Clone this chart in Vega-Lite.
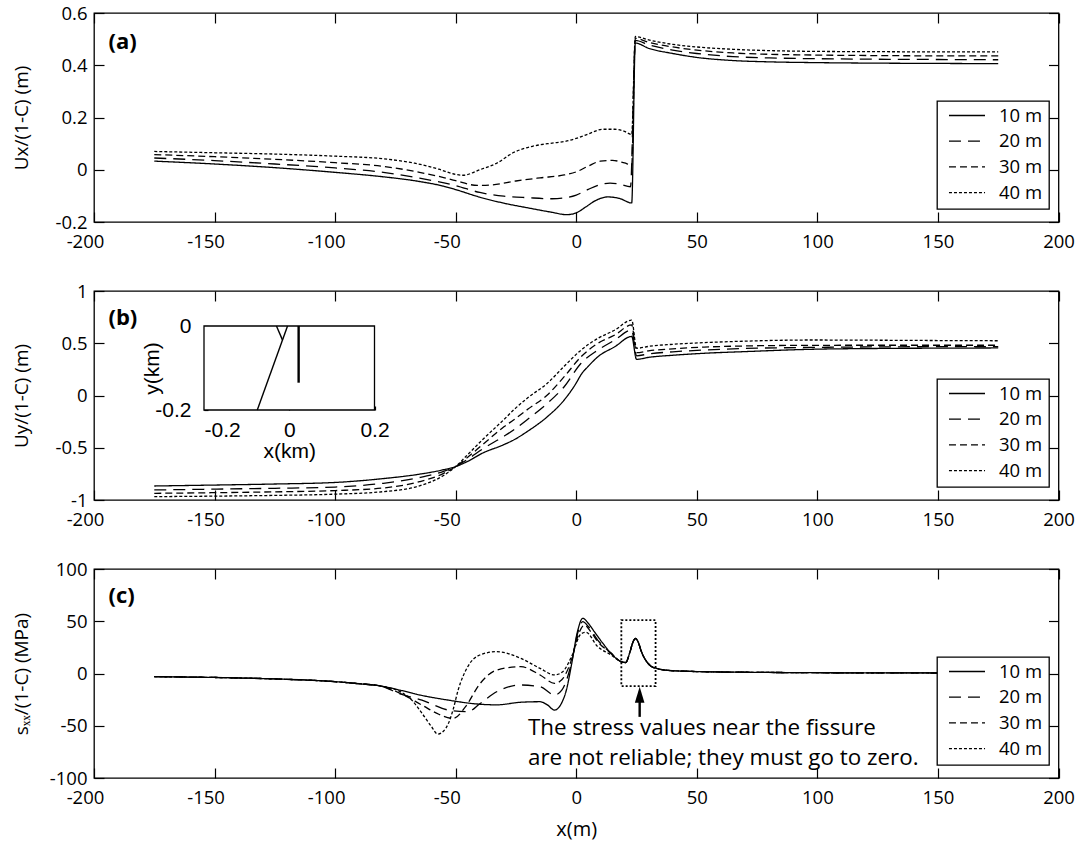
{
  "$schema": "https://vega.github.io/schema/vega-lite/v6.json",
  "background": "white",
  "padding": {"left": 11, "top": 3, "right": 0, "bottom": 0},
  "config": {
    "font": "Open Sans",
    "view": {"stroke": "black", "strokeWidth": 1.3},
    "axis": {
      "domain": false, "grid": false,
      "labelFont": "Open Sans", "labelFontSize": 18.5, "labelColor": "black",
      "titleFont": "Open Sans", "titleFontSize": 19, "titleFontWeight": "normal", "titleColor": "black",
      "tickColor": "black", "tickWidth": 1.2, "tickSize": -10,
      "labelFlush": false, "labelOverlap": false
    },
    "legend": {
      "orient": "none", "strokeColor": "black", "strokeWidth": 1.3, "fillColor": "white",
      "padding": 6, "symbolOffset": 5, "symbolType": "stroke", "symbolSize": 1300, "symbolStrokeWidth": 1.3,
      "symbolStrokeColor": "black", "labelFont": "Open Sans", "labelFontSize": 18.5,
      "labelColor": "black", "labelOffset": 13, "rowPadding": 6.7, "clipHeight": 17, "cornerRadius": 0
    },
    "concat": {"spacing": 29}
  },
  "datasets": {
    "ux": [
      {"x": -175, "v": 0.033, "d": "10 m"}, {"x": -150, "v": 0.022, "d": "10 m"}, {"x": -125, "v": 0.008, "d": "10 m"},
      {"x": -100, "v": -0.01, "d": "10 m"}, {"x": -80, "v": -0.027, "d": "10 m"}, {"x": -65, "v": -0.045, "d": "10 m"},
      {"x": -55, "v": -0.063, "d": "10 m"}, {"x": -50, "v": -0.076, "d": "10 m"}, {"x": -40, "v": -0.105, "d": "10 m"},
      {"x": -30, "v": -0.128, "d": "10 m"}, {"x": -20, "v": -0.146, "d": "10 m"}, {"x": -10, "v": -0.163, "d": "10 m"},
      {"x": -4, "v": -0.172, "d": "10 m"}, {"x": 0, "v": -0.165, "d": "10 m"}, {"x": 4, "v": -0.142, "d": "10 m"},
      {"x": 8, "v": -0.118, "d": "10 m"}, {"x": 13, "v": -0.104, "d": "10 m"}, {"x": 18, "v": -0.11, "d": "10 m"},
      {"x": 23, "v": -0.127, "d": "10 m"}, {"x": 24.5, "v": 0.485, "d": "10 m"}, {"x": 30, "v": 0.465, "d": "10 m"},
      {"x": 40, "v": 0.445, "d": "10 m"}, {"x": 50, "v": 0.43, "d": "10 m"}, {"x": 65, "v": 0.418, "d": "10 m"},
      {"x": 80, "v": 0.413, "d": "10 m"}, {"x": 100, "v": 0.41, "d": "10 m"}, {"x": 125, "v": 0.408, "d": "10 m"},
      {"x": 150, "v": 0.407, "d": "10 m"}, {"x": 175, "v": 0.406, "d": "10 m"},

      {"x": -175, "v": 0.045, "d": "20 m"}, {"x": -150, "v": 0.035, "d": "20 m"}, {"x": -125, "v": 0.022, "d": "20 m"},
      {"x": -100, "v": 0.007, "d": "20 m"}, {"x": -80, "v": -0.01, "d": "20 m"}, {"x": -65, "v": -0.032, "d": "20 m"},
      {"x": -50, "v": -0.061, "d": "20 m"}, {"x": -40, "v": -0.087, "d": "20 m"}, {"x": -30, "v": -0.101, "d": "20 m"},
      {"x": -20, "v": -0.107, "d": "20 m"}, {"x": -10, "v": -0.111, "d": "20 m"}, {"x": -5, "v": -0.108, "d": "20 m"},
      {"x": 0, "v": -0.097, "d": "20 m"}, {"x": 5, "v": -0.075, "d": "20 m"}, {"x": 10, "v": -0.057, "d": "20 m"},
      {"x": 14, "v": -0.051, "d": "20 m"}, {"x": 18, "v": -0.055, "d": "20 m"}, {"x": 22.5, "v": -0.065, "d": "20 m"},
      {"x": 24.5, "v": 0.495, "d": "20 m"}, {"x": 30, "v": 0.478, "d": "20 m"}, {"x": 40, "v": 0.458, "d": "20 m"},
      {"x": 50, "v": 0.445, "d": "20 m"}, {"x": 65, "v": 0.433, "d": "20 m"}, {"x": 80, "v": 0.428, "d": "20 m"},
      {"x": 100, "v": 0.425, "d": "20 m"}, {"x": 125, "v": 0.423, "d": "20 m"}, {"x": 150, "v": 0.422, "d": "20 m"},
      {"x": 175, "v": 0.421, "d": "20 m"},

      {"x": -175, "v": 0.058, "d": "30 m"}, {"x": -150, "v": 0.05, "d": "30 m"}, {"x": -125, "v": 0.04, "d": "30 m"},
      {"x": -100, "v": 0.027, "d": "30 m"}, {"x": -80, "v": 0.013, "d": "30 m"}, {"x": -65, "v": -0.01, "d": "30 m"},
      {"x": -55, "v": -0.03, "d": "30 m"}, {"x": -50, "v": -0.042, "d": "30 m"}, {"x": -41, "v": -0.06, "d": "30 m"},
      {"x": -35, "v": -0.058, "d": "30 m"}, {"x": -25, "v": -0.043, "d": "30 m"}, {"x": -15, "v": -0.031, "d": "30 m"},
      {"x": -5, "v": -0.02, "d": "30 m"}, {"x": 0, "v": -0.008, "d": "30 m"}, {"x": 5, "v": 0.014, "d": "30 m"},
      {"x": 10, "v": 0.033, "d": "30 m"}, {"x": 15, "v": 0.036, "d": "30 m"}, {"x": 20, "v": 0.026, "d": "30 m"},
      {"x": 23, "v": 0.018, "d": "30 m"}, {"x": 24.5, "v": 0.503, "d": "30 m"}, {"x": 30, "v": 0.488, "d": "30 m"},
      {"x": 40, "v": 0.47, "d": "30 m"}, {"x": 50, "v": 0.458, "d": "30 m"}, {"x": 65, "v": 0.447, "d": "30 m"},
      {"x": 80, "v": 0.442, "d": "30 m"}, {"x": 100, "v": 0.439, "d": "30 m"}, {"x": 125, "v": 0.437, "d": "30 m"},
      {"x": 150, "v": 0.436, "d": "30 m"}, {"x": 175, "v": 0.436, "d": "30 m"},

      {"x": -175, "v": 0.07, "d": "40 m"}, {"x": -150, "v": 0.065, "d": "40 m"}, {"x": -125, "v": 0.06, "d": "40 m"},
      {"x": -100, "v": 0.052, "d": "40 m"}, {"x": -80, "v": 0.042, "d": "40 m"}, {"x": -67, "v": 0.025, "d": "40 m"},
      {"x": -57, "v": 0.002, "d": "40 m"}, {"x": -50, "v": -0.018, "d": "40 m"}, {"x": -47, "v": -0.021, "d": "40 m"},
      {"x": -40, "v": 0.0, "d": "40 m"}, {"x": -33, "v": 0.025, "d": "40 m"}, {"x": -26, "v": 0.066, "d": "40 m"},
      {"x": -18, "v": 0.09, "d": "40 m"}, {"x": -10, "v": 0.102, "d": "40 m"}, {"x": -5, "v": 0.108, "d": "40 m"},
      {"x": 0, "v": 0.12, "d": "40 m"}, {"x": 5, "v": 0.137, "d": "40 m"}, {"x": 11, "v": 0.155, "d": "40 m"},
      {"x": 16, "v": 0.155, "d": "40 m"}, {"x": 20, "v": 0.147, "d": "40 m"}, {"x": 23, "v": 0.135, "d": "40 m"},
      {"x": 24.5, "v": 0.51, "d": "40 m"}, {"x": 30, "v": 0.497, "d": "40 m"}, {"x": 40, "v": 0.48, "d": "40 m"},
      {"x": 50, "v": 0.47, "d": "40 m"}, {"x": 65, "v": 0.461, "d": "40 m"}, {"x": 80, "v": 0.456, "d": "40 m"},
      {"x": 100, "v": 0.453, "d": "40 m"}, {"x": 125, "v": 0.452, "d": "40 m"}, {"x": 150, "v": 0.451, "d": "40 m"},
      {"x": 175, "v": 0.451, "d": "40 m"}
    ],
    "uy": [
      {"x": -175, "v": -0.866, "d": "10 m"}, {"x": -150, "v": -0.857, "d": "10 m"}, {"x": -125, "v": -0.847, "d": "10 m"},
      {"x": -100, "v": -0.832, "d": "10 m"}, {"x": -80, "v": -0.795, "d": "10 m"}, {"x": -65, "v": -0.753, "d": "10 m"},
      {"x": -55, "v": -0.71, "d": "10 m"}, {"x": -50, "v": -0.68, "d": "10 m"}, {"x": -45, "v": -0.63, "d": "10 m"},
      {"x": -39, "v": -0.553, "d": "10 m"}, {"x": -30, "v": -0.47, "d": "10 m"}, {"x": -26, "v": -0.426, "d": "10 m"},
      {"x": -20, "v": -0.34, "d": "10 m"}, {"x": -12, "v": -0.203, "d": "10 m"}, {"x": -5, "v": -0.043, "d": "10 m"},
      {"x": 0, "v": 0.12, "d": "10 m"}, {"x": 2, "v": 0.2, "d": "10 m"}, {"x": 5, "v": 0.28, "d": "10 m"},
      {"x": 9, "v": 0.371, "d": "10 m"}, {"x": 16, "v": 0.467, "d": "10 m"}, {"x": 23, "v": 0.565, "d": "10 m"},
      {"x": 25, "v": 0.346, "d": "10 m"}, {"x": 30, "v": 0.365, "d": "10 m"}, {"x": 40, "v": 0.385, "d": "10 m"},
      {"x": 53, "v": 0.404, "d": "10 m"}, {"x": 70, "v": 0.42, "d": "10 m"}, {"x": 97, "v": 0.442, "d": "10 m"},
      {"x": 125, "v": 0.45, "d": "10 m"}, {"x": 150, "v": 0.453, "d": "10 m"}, {"x": 175, "v": 0.455, "d": "10 m"},

      {"x": -175, "v": -0.904, "d": "20 m"}, {"x": -150, "v": -0.896, "d": "20 m"}, {"x": -125, "v": -0.888, "d": "20 m"},
      {"x": -100, "v": -0.876, "d": "20 m"}, {"x": -80, "v": -0.84, "d": "20 m"}, {"x": -65, "v": -0.785, "d": "20 m"},
      {"x": -55, "v": -0.725, "d": "20 m"}, {"x": -50, "v": -0.68, "d": "20 m"}, {"x": -45, "v": -0.61, "d": "20 m"},
      {"x": -39, "v": -0.515, "d": "20 m"}, {"x": -30, "v": -0.39, "d": "20 m"}, {"x": -26, "v": -0.33, "d": "20 m"},
      {"x": -20, "v": -0.225, "d": "20 m"}, {"x": -12, "v": -0.075, "d": "20 m"}, {"x": -5, "v": 0.084, "d": "20 m"},
      {"x": 2, "v": 0.308, "d": "20 m"}, {"x": 9, "v": 0.435, "d": "20 m"}, {"x": 16, "v": 0.531, "d": "20 m"},
      {"x": 23, "v": 0.627, "d": "20 m"}, {"x": 25, "v": 0.38, "d": "20 m"}, {"x": 30, "v": 0.398, "d": "20 m"},
      {"x": 40, "v": 0.418, "d": "20 m"}, {"x": 53, "v": 0.435, "d": "20 m"}, {"x": 70, "v": 0.45, "d": "20 m"},
      {"x": 97, "v": 0.46, "d": "20 m"}, {"x": 125, "v": 0.465, "d": "20 m"}, {"x": 150, "v": 0.467, "d": "20 m"},
      {"x": 175, "v": 0.467, "d": "20 m"},

      {"x": -175, "v": -0.936, "d": "30 m"}, {"x": -150, "v": -0.93, "d": "30 m"}, {"x": -125, "v": -0.922, "d": "30 m"},
      {"x": -100, "v": -0.91, "d": "30 m"}, {"x": -80, "v": -0.885, "d": "30 m"}, {"x": -65, "v": -0.825, "d": "30 m"},
      {"x": -55, "v": -0.745, "d": "30 m"}, {"x": -50, "v": -0.68, "d": "30 m"}, {"x": -45, "v": -0.59, "d": "30 m"},
      {"x": -39, "v": -0.474, "d": "30 m"}, {"x": -30, "v": -0.3, "d": "30 m"}, {"x": -26, "v": -0.234, "d": "30 m"},
      {"x": -20, "v": -0.13, "d": "30 m"}, {"x": -12, "v": 0.005, "d": "30 m"}, {"x": -5, "v": 0.18, "d": "30 m"},
      {"x": 2, "v": 0.371, "d": "30 m"}, {"x": 9, "v": 0.5, "d": "30 m"}, {"x": 16, "v": 0.579, "d": "30 m"},
      {"x": 23, "v": 0.675, "d": "30 m"}, {"x": 25, "v": 0.41, "d": "30 m"}, {"x": 30, "v": 0.428, "d": "30 m"},
      {"x": 40, "v": 0.447, "d": "30 m"}, {"x": 53, "v": 0.463, "d": "30 m"}, {"x": 70, "v": 0.474, "d": "30 m"},
      {"x": 97, "v": 0.48, "d": "30 m"}, {"x": 125, "v": 0.481, "d": "30 m"}, {"x": 150, "v": 0.481, "d": "30 m"},
      {"x": 175, "v": 0.481, "d": "30 m"},

      {"x": -175, "v": -0.968, "d": "40 m"}, {"x": -150, "v": -0.963, "d": "40 m"}, {"x": -125, "v": -0.956, "d": "40 m"},
      {"x": -100, "v": -0.944, "d": "40 m"}, {"x": -80, "v": -0.92, "d": "40 m"}, {"x": -65, "v": -0.865, "d": "40 m"},
      {"x": -55, "v": -0.765, "d": "40 m"}, {"x": -50, "v": -0.68, "d": "40 m"}, {"x": -45, "v": -0.565, "d": "40 m"},
      {"x": -39, "v": -0.426, "d": "40 m"}, {"x": -30, "v": -0.23, "d": "40 m"}, {"x": -26, "v": -0.139, "d": "40 m"},
      {"x": -20, "v": -0.02, "d": "40 m"}, {"x": -12, "v": 0.117, "d": "40 m"}, {"x": -5, "v": 0.28, "d": "40 m"},
      {"x": 2, "v": 0.435, "d": "40 m"}, {"x": 9, "v": 0.547, "d": "40 m"}, {"x": 16, "v": 0.627, "d": "40 m"},
      {"x": 23, "v": 0.722, "d": "40 m"}, {"x": 25, "v": 0.452, "d": "40 m"}, {"x": 30, "v": 0.47, "d": "40 m"},
      {"x": 40, "v": 0.49, "d": "40 m"}, {"x": 53, "v": 0.506, "d": "40 m"}, {"x": 70, "v": 0.52, "d": "40 m"},
      {"x": 97, "v": 0.531, "d": "40 m"}, {"x": 125, "v": 0.529, "d": "40 m"}, {"x": 150, "v": 0.526, "d": "40 m"},
      {"x": 175, "v": 0.524, "d": "40 m"}
    ],
    "sxx": [
      {"x": -175, "v": -3, "d": "10 m"}, {"x": -150, "v": -3.8, "d": "10 m"}, {"x": -125, "v": -5.2, "d": "10 m"},
      {"x": -100, "v": -7.8, "d": "10 m"}, {"x": -90, "v": -9.8, "d": "10 m"}, {"x": -81, "v": -12, "d": "10 m"},
      {"x": -73, "v": -16, "d": "10 m"}, {"x": -64, "v": -21, "d": "10 m"}, {"x": -53, "v": -25.5, "d": "10 m"},
      {"x": -42, "v": -29, "d": "10 m"}, {"x": -33, "v": -30, "d": "10 m"}, {"x": -23, "v": -27.5, "d": "10 m"},
      {"x": -15, "v": -27, "d": "10 m"}, {"x": -12, "v": -30, "d": "10 m"}, {"x": -9, "v": -35, "d": "10 m"},
      {"x": -6.5, "v": -30, "d": "10 m"}, {"x": -4, "v": -15, "d": "10 m"}, {"x": -2, "v": 8, "d": "10 m"},
      {"x": 0.5, "v": 40, "d": "10 m"}, {"x": 2.7, "v": 52.8, "d": "10 m"}, {"x": 5, "v": 48, "d": "10 m"},
      {"x": 7.5, "v": 40, "d": "10 m"}, {"x": 11, "v": 29, "d": "10 m"}, {"x": 14.5, "v": 19, "d": "10 m"},
      {"x": 18.6, "v": 11.3, "d": "10 m"}, {"x": 20.5, "v": 10.5, "d": "10 m"}, {"x": 22.2, "v": 20, "d": "10 m"},
      {"x": 23.5, "v": 30, "d": "10 m"}, {"x": 24.6, "v": 33.5, "d": "10 m"}, {"x": 25.7, "v": 30, "d": "10 m"},
      {"x": 27, "v": 21, "d": "10 m"}, {"x": 29, "v": 12, "d": "10 m"}, {"x": 31, "v": 7, "d": "10 m"},
      {"x": 34, "v": 4.5, "d": "10 m"}, {"x": 38, "v": 3, "d": "10 m"}, {"x": 45, "v": 2.2, "d": "10 m"},
      {"x": 53, "v": 1.7, "d": "10 m"}, {"x": 70, "v": 1.2, "d": "10 m"}, {"x": 97, "v": 0.8, "d": "10 m"},
      {"x": 125, "v": 0.6, "d": "10 m"}, {"x": 150, "v": 0.5, "d": "10 m"}, {"x": 175, "v": 0.5, "d": "10 m"},

      {"x": -175, "v": -3, "d": "20 m"}, {"x": -150, "v": -3.8, "d": "20 m"}, {"x": -125, "v": -5.2, "d": "20 m"},
      {"x": -100, "v": -7.8, "d": "20 m"}, {"x": -90, "v": -9.8, "d": "20 m"}, {"x": -81, "v": -12, "d": "20 m"},
      {"x": -73, "v": -19.6, "d": "20 m"}, {"x": -64, "v": -25.4, "d": "20 m"}, {"x": -53, "v": -35, "d": "20 m"},
      {"x": -45, "v": -36.5, "d": "20 m"}, {"x": -40, "v": -29, "d": "20 m"}, {"x": -33, "v": -17.5, "d": "20 m"},
      {"x": -23, "v": -11, "d": "20 m"}, {"x": -15, "v": -12.6, "d": "20 m"}, {"x": -9, "v": -20.6, "d": "20 m"},
      {"x": -6, "v": -16, "d": "20 m"}, {"x": -2, "v": 10, "d": "20 m"}, {"x": 0.5, "v": 38, "d": "20 m"},
      {"x": 2.7, "v": 49.6, "d": "20 m"}, {"x": 5, "v": 45, "d": "20 m"}, {"x": 8.9, "v": 32, "d": "20 m"},
      {"x": 14.5, "v": 19.3, "d": "20 m"}, {"x": 18.6, "v": 11.3, "d": "20 m"}, {"x": 20.5, "v": 10.5, "d": "20 m"},
      {"x": 22.2, "v": 20, "d": "20 m"}, {"x": 23.5, "v": 30, "d": "20 m"}, {"x": 24.6, "v": 33.5, "d": "20 m"},
      {"x": 25.7, "v": 30, "d": "20 m"}, {"x": 27, "v": 21, "d": "20 m"}, {"x": 29, "v": 12, "d": "20 m"},
      {"x": 31, "v": 7, "d": "20 m"}, {"x": 34, "v": 4.5, "d": "20 m"}, {"x": 38, "v": 3, "d": "20 m"},
      {"x": 45, "v": 2.2, "d": "20 m"}, {"x": 53, "v": 1.7, "d": "20 m"}, {"x": 70, "v": 1.2, "d": "20 m"},
      {"x": 97, "v": 0.8, "d": "20 m"}, {"x": 125, "v": 0.6, "d": "20 m"}, {"x": 150, "v": 0.5, "d": "20 m"},
      {"x": 175, "v": 0.5, "d": "20 m"},

      {"x": -175, "v": -3, "d": "30 m"}, {"x": -150, "v": -3.8, "d": "30 m"}, {"x": -125, "v": -5.2, "d": "30 m"},
      {"x": -100, "v": -7.8, "d": "30 m"}, {"x": -90, "v": -9.8, "d": "30 m"}, {"x": -81, "v": -12, "d": "30 m"},
      {"x": -73, "v": -19, "d": "30 m"}, {"x": -64, "v": -30.2, "d": "30 m"}, {"x": -57, "v": -39, "d": "30 m"},
      {"x": -51, "v": -43, "d": "30 m"}, {"x": -46, "v": -32, "d": "30 m"}, {"x": -40, "v": -10, "d": "30 m"},
      {"x": -33, "v": 3.3, "d": "30 m"}, {"x": -23, "v": 6.5, "d": "30 m"}, {"x": -15, "v": -1.4, "d": "30 m"},
      {"x": -9, "v": -9.4, "d": "30 m"}, {"x": -6, "v": -6, "d": "30 m"}, {"x": -2, "v": 13, "d": "30 m"},
      {"x": 1, "v": 38, "d": "30 m"}, {"x": 3.4, "v": 46.4, "d": "30 m"}, {"x": 6, "v": 40, "d": "30 m"},
      {"x": 8.9, "v": 30.5, "d": "30 m"}, {"x": 14.5, "v": 19.3, "d": "30 m"}, {"x": 18.6, "v": 11.3, "d": "30 m"},
      {"x": 20.5, "v": 10.5, "d": "30 m"}, {"x": 22.2, "v": 20, "d": "30 m"}, {"x": 23.5, "v": 30, "d": "30 m"},
      {"x": 24.6, "v": 33.5, "d": "30 m"}, {"x": 25.7, "v": 30, "d": "30 m"}, {"x": 27, "v": 21, "d": "30 m"},
      {"x": 29, "v": 12, "d": "30 m"}, {"x": 31, "v": 7, "d": "30 m"}, {"x": 34, "v": 4.5, "d": "30 m"},
      {"x": 38, "v": 3, "d": "30 m"}, {"x": 45, "v": 2.2, "d": "30 m"}, {"x": 53, "v": 1.7, "d": "30 m"},
      {"x": 70, "v": 1.2, "d": "30 m"}, {"x": 97, "v": 0.8, "d": "30 m"}, {"x": 125, "v": 0.6, "d": "30 m"},
      {"x": 150, "v": 0.5, "d": "30 m"}, {"x": 175, "v": 0.5, "d": "30 m"},

      {"x": -175, "v": -3, "d": "40 m"}, {"x": -150, "v": -3.8, "d": "40 m"}, {"x": -125, "v": -5.2, "d": "40 m"},
      {"x": -100, "v": -7.8, "d": "40 m"}, {"x": -90, "v": -9.8, "d": "40 m"}, {"x": -81, "v": -12, "d": "40 m"},
      {"x": -73, "v": -17.4, "d": "40 m"}, {"x": -68, "v": -26, "d": "40 m"}, {"x": -64, "v": -38, "d": "40 m"},
      {"x": -60, "v": -51, "d": "40 m"}, {"x": -57.5, "v": -58, "d": "40 m"}, {"x": -55, "v": -55, "d": "40 m"},
      {"x": -53, "v": -47.7, "d": "40 m"}, {"x": -51, "v": -34, "d": "40 m"}, {"x": -49, "v": -16, "d": "40 m"},
      {"x": -45, "v": 6.5, "d": "40 m"}, {"x": -40, "v": 17.7, "d": "40 m"}, {"x": -33, "v": 20.9, "d": "40 m"},
      {"x": -23, "v": 14.5, "d": "40 m"}, {"x": -15, "v": 4.9, "d": "40 m"}, {"x": -9, "v": -1.4, "d": "40 m"},
      {"x": -5.6, "v": 1.7, "d": "40 m"}, {"x": -2, "v": 16, "d": "40 m"}, {"x": 2, "v": 38, "d": "40 m"},
      {"x": 4, "v": 39.5, "d": "40 m"}, {"x": 8.9, "v": 25.7, "d": "40 m"}, {"x": 14.5, "v": 17.7, "d": "40 m"},
      {"x": 18.6, "v": 11.3, "d": "40 m"}, {"x": 20.5, "v": 10.5, "d": "40 m"}, {"x": 22.2, "v": 20, "d": "40 m"},
      {"x": 23.5, "v": 30, "d": "40 m"}, {"x": 24.6, "v": 33.5, "d": "40 m"}, {"x": 25.7, "v": 30, "d": "40 m"},
      {"x": 27, "v": 21, "d": "40 m"}, {"x": 29, "v": 12, "d": "40 m"}, {"x": 31, "v": 7, "d": "40 m"},
      {"x": 34, "v": 4.5, "d": "40 m"}, {"x": 38, "v": 3, "d": "40 m"}, {"x": 45, "v": 2.2, "d": "40 m"},
      {"x": 53, "v": 1.7, "d": "40 m"}, {"x": 70, "v": 1.2, "d": "40 m"}, {"x": 97, "v": 0.8, "d": "40 m"},
      {"x": 125, "v": 0.6, "d": "40 m"}, {"x": 150, "v": 0.5, "d": "40 m"}, {"x": 175, "v": 0.5, "d": "40 m"}
    ],
    "fault": [
      {"x1": -0.075, "y1": -0.2, "x2": -0.004, "y2": 0, "kind": "fault"},
      {"x1": -0.03, "y1": 0, "x2": -0.016, "y2": -0.033, "kind": "fault"},
      {"x1": 0.022, "y1": 0, "x2": 0.022, "y2": -0.135, "kind": "fissure"}
    ]
  },
  "resolve": {"legend": {"strokeDash": "independent"}},
  "vconcat": [
    {
      "width": 964.5, "height": 209,
      "layer": [
        {
          "data": {"name": "ux"},
          "mark": {"type": "line", "interpolate": "monotone", "strokeWidth": 1.3, "color": "black"},
          "encoding": {
            "x": {"field": "x", "type": "quantitative", "scale": {"domain": [-200, 200], "nice": false, "zero": false},
              "axis": {"orient": "bottom", "values": [-200, -150, -100, -50, 0, 50, 100, 150, 200], "format": "~f",
                "labelExpr": "replace(datum.label, '\u2212', '-')", "labelPadding": 20,
                "labelOffset": {"condition": {"test": "datum.value < 0", "value": -9}, "value": 0}, "title": null}},
            "y": {"field": "v", "type": "quantitative", "scale": {"domain": [-0.2, 0.6], "nice": false, "zero": false},
              "axis": {"orient": "left", "values": [-0.2, 0, 0.2, 0.4, 0.6], "format": "~f",
                "labelExpr": "replace(datum.label, '\u2212', '-')", "labelPadding": 17,
                "minExtent": 50, "maxExtent": 50, "titlePadding": 13, "title": "Ux/(1-C) (m)"}},
            "strokeDash": {"field": "d", "type": "nominal",
              "scale": {"domain": ["10 m", "20 m", "30 m", "40 m"], "range": [[1, 0], [12, 7], [7, 4], [3, 2]]},
              "legend": {"title": null, "orient": "none", "legendX": 843, "legendY": 88}}
          }
        },
        {
          "data": {"values": [{}]},
          "mark": {"type": "text", "text": "(a)", "font": "Open Sans", "fontSize": 22, "fontWeight": "bold", "align": "left", "baseline": "middle"},
          "encoding": {
            "x": {"datum": -194, "type": "quantitative", "scale": {"domain": [-200, 200], "nice": false, "zero": false},
              "axis": {"orient": "top", "values": [-200, -150, -100, -50, 0, 50, 100, 150, 200], "labels": false, "title": null, "minExtent": 0, "maxExtent": 0}},
            "y": {"datum": 0.49, "type": "quantitative", "scale": {"domain": [-0.2, 0.6], "nice": false, "zero": false},
              "axis": {"orient": "right", "values": [-0.2, 0, 0.2, 0.4, 0.6], "labels": false, "title": null, "minExtent": 0, "maxExtent": 0}}
          }
        }
      ],
      "resolve": {"axis": {"x": "independent", "y": "independent"}}
    },
    {
      "width": 964.5, "height": 209,
      "layer": [
        {
          "layer": [
            {
              "data": {"name": "uy"},
              "mark": {"type": "line", "interpolate": "monotone", "strokeWidth": 1.3, "color": "black"},
              "encoding": {
                "x": {"field": "x", "type": "quantitative", "scale": {"domain": [-200, 200], "nice": false, "zero": false},
                  "axis": {"orient": "bottom", "values": [-200, -150, -100, -50, 0, 50, 100, 150, 200], "format": "~f",
                    "labelExpr": "replace(datum.label, '\u2212', '-')", "labelPadding": 20,
                    "labelOffset": {"condition": {"test": "datum.value < 0", "value": -9}, "value": 0}, "title": null}},
                "y": {"field": "v", "type": "quantitative", "scale": {"domain": [-1, 1], "nice": false, "zero": false},
                  "axis": {"orient": "left", "values": [-1, -0.5, 0, 0.5, 1], "format": "~f",
                    "labelExpr": "replace(datum.label, '\u2212', '-')", "labelPadding": 17,
                    "minExtent": 50, "maxExtent": 50, "titlePadding": 13, "title": "Uy/(1-C) (m)"}},
                "strokeDash": {"field": "d", "type": "nominal",
                  "scale": {"domain": ["10 m", "20 m", "30 m", "40 m"], "range": [[1, 0], [12, 7], [7, 4], [3, 2]]},
                  "legend": {"title": null, "orient": "none", "legendX": 843, "legendY": 88}}
              }
            },
            {
              "data": {"values": [{}]},
              "mark": {"type": "text", "text": "(b)", "font": "Open Sans", "fontSize": 22, "fontWeight": "bold", "align": "left", "baseline": "middle"},
              "encoding": {
                "x": {"datum": -194, "type": "quantitative", "scale": {"domain": [-200, 200], "nice": false, "zero": false},
                  "axis": {"orient": "top", "values": [-200, -150, -100, -50, 0, 50, 100, 150, 200], "labels": false, "title": null, "minExtent": 0, "maxExtent": 0}},
                "y": {"datum": 0.74, "type": "quantitative", "scale": {"domain": [-1, 1], "nice": false, "zero": false},
                  "axis": {"orient": "right", "values": [-1, -0.5, 0, 0.5, 1], "labels": false, "title": null, "minExtent": 0, "maxExtent": 0}}
              }
            }
          ],
          "resolve": {"axis": {"x": "independent", "y": "independent"}}
        },
        {
          "layer": [
            {
              "data": {"values": [{}]},
              "mark": {"type": "rect", "fill": "white", "stroke": "black", "strokeWidth": 1.3},
              "encoding": {
                "x": {"datum": -0.2, "type": "quantitative",
                  "scale": {"domain": [-0.2, 0.2], "range": [110, 280.5], "nice": false, "zero": false},
                  "axis": {"orient": "bottom", "offset": -90, "values": [-0.2, 0, 0.2], "format": "~f",
                    "labelExpr": "replace(datum.label, '\u2212', '-')",
                    "labelFont": "Liberation Sans", "labelFontSize": 21, "tickSize": -4, "labelPadding": 13,
                    "labelAlign": {"condition": {"test": "datum.value < -0.1", "value": "left"}, "value": "center"},
                    "title": "x(km)", "titleFont": "Liberation Sans", "titleFontSize": 21, "titlePadding": 0,
                    "minExtent": 0, "maxExtent": 200}},
                "x2": {"datum": 0.2},
                "y": {"datum": -0.2, "type": "quantitative",
                  "scale": {"domain": [-0.2, 0], "range": [119, 35], "nice": false, "zero": false},
                  "axis": {"orient": "left", "offset": -110, "values": [-0.2, -0.1, 0], "format": "~f",
                    "labelExpr": "abs(datum.value + 0.1) < 0.01 ? '' : replace(datum.label, '\u2212', '-')",
                    "labelFont": "Liberation Sans", "labelFontSize": 21, "tickSize": -4, "labelPadding": 17,
                    "title": "y(km)", "titleFont": "Liberation Sans", "titleFontSize": 21, "titlePadding": -8,
                    "minExtent": 0, "maxExtent": 200}},
                "y2": {"datum": 0}
              }
            },
            {
              "data": {"name": "fault"},
              "transform": [{"filter": "datum.kind == 'fault'"}],
              "mark": {"type": "rule", "color": "black", "strokeWidth": 1.4},
              "encoding": {
                "x": {"field": "x1", "type": "quantitative", "scale": {"domain": [-0.2, 0.2], "range": [110, 280.5], "nice": false, "zero": false}, "axis": null},
                "x2": {"field": "x2"},
                "y": {"field": "y1", "type": "quantitative", "scale": {"domain": [-0.2, 0], "range": [119, 35], "nice": false, "zero": false}, "axis": null},
                "y2": {"field": "y2"}
              }
            },
            {
              "data": {"name": "fault"},
              "transform": [{"filter": "datum.kind == 'fissure'"}],
              "mark": {"type": "rule", "color": "black", "strokeWidth": 2.4},
              "encoding": {
                "x": {"field": "x1", "type": "quantitative", "scale": {"domain": [-0.2, 0.2], "range": [110, 280.5], "nice": false, "zero": false}, "axis": null},
                "x2": {"field": "x2"},
                "y": {"field": "y1", "type": "quantitative", "scale": {"domain": [-0.2, 0], "range": [119, 35], "nice": false, "zero": false}, "axis": null},
                "y2": {"field": "y2"}
              }
            }
          ],
          "resolve": {"axis": {"x": "independent", "y": "independent"}}
        }
      ],
      "resolve": {"scale": {"x": "independent", "y": "independent"}}
    },
    {
      "width": 964.5, "height": 209,
      "layer": [
        {
          "data": {"name": "sxx"},
          "mark": {"type": "line", "interpolate": "monotone", "strokeWidth": 1.3, "color": "black"},
          "encoding": {
            "x": {"field": "x", "type": "quantitative", "scale": {"domain": [-200, 200], "nice": false, "zero": false},
              "axis": {"orient": "bottom", "values": [-200, -150, -100, -50, 0, 50, 100, 150, 200], "format": "~f",
                "labelExpr": "replace(datum.label, '\u2212', '-')", "labelPadding": 20,
                "labelOffset": {"condition": {"test": "datum.value < 0", "value": -9}, "value": 0},
                "title": "x(m)", "titleFontSize": 20, "titlePadding": 13}},
            "y": {"field": "v", "type": "quantitative", "scale": {"domain": [-100, 100], "nice": false, "zero": false},
              "axis": {"orient": "left", "values": [-100, -50, 0, 50, 100], "format": "~f",
                "labelExpr": "replace(datum.label, '\u2212', '-')", "labelPadding": 17,
                "minExtent": 50, "maxExtent": 50, "titlePadding": 13, "title": "s\u2093\u2093/(1-C) (MPa)"}},
            "strokeDash": {"field": "d", "type": "nominal",
              "scale": {"domain": ["10 m", "20 m", "30 m", "40 m"], "range": [[1, 0], [12, 7], [7, 4], [3, 2]]},
              "legend": {"title": null, "orient": "none", "legendX": 843, "legendY": 88}}
          }
        },
        {
          "data": {"values": [{}]},
          "mark": {"type": "text", "text": "(c)", "font": "Open Sans", "fontSize": 22, "fontWeight": "bold", "align": "left", "baseline": "middle"},
          "encoding": {
            "x": {"datum": -194, "type": "quantitative", "scale": {"domain": [-200, 200], "nice": false, "zero": false},
              "axis": {"orient": "top", "values": [-200, -150, -100, -50, 0, 50, 100, 150, 200], "labels": false, "title": null, "minExtent": 0, "maxExtent": 0}},
            "y": {"datum": 74, "type": "quantitative", "scale": {"domain": [-100, 100], "nice": false, "zero": false},
              "axis": {"orient": "right", "values": [-100, -50, 0, 50, 100], "labels": false, "title": null, "minExtent": 0, "maxExtent": 0}}
          }
        },
        {
          "data": {"values": [{}]},
          "mark": {"type": "rect", "filled": false, "stroke": "black", "strokeWidth": 1.8, "strokeDash": [2, 2]},
          "encoding": {
            "x": {"datum": 18.7, "type": "quantitative", "scale": {"domain": [-200, 200], "nice": false, "zero": false}, "axis": null},
            "x2": {"datum": 32.9},
            "y": {"datum": -12, "type": "quantitative", "scale": {"domain": [-100, 100], "nice": false, "zero": false}, "axis": null},
            "y2": {"datum": 51}
          }
        },
        {
          "data": {"values": [{}]},
          "mark": {"type": "rule", "color": "black", "strokeWidth": 2.4},
          "encoding": {
            "x": {"datum": 26.3, "type": "quantitative", "scale": {"domain": [-200, 200], "nice": false, "zero": false}, "axis": null},
            "y": {"datum": -41.5, "type": "quantitative", "scale": {"domain": [-100, 100], "nice": false, "zero": false}, "axis": null},
            "y2": {"datum": -24}
          }
        },
        {
          "data": {"values": [{}]},
          "mark": {"type": "point", "shape": "M0,-1L0.6,1L-0.6,1Z", "filled": true, "color": "black", "opacity": 1, "size": 256},
          "encoding": {
            "x": {"datum": 26.3, "type": "quantitative", "scale": {"domain": [-200, 200], "nice": false, "zero": false}, "axis": null},
            "y": {"datum": -20.3, "type": "quantitative", "scale": {"domain": [-100, 100], "nice": false, "zero": false}, "axis": null}
          }
        },
        {
          "data": {"values": [{}]},
          "mark": {"type": "text", "text": ["The stress values near the fissure", "are not reliable; they must go to zero."],
            "font": "Open Sans", "fontSize": 22.4, "lineHeight": 30, "align": "left", "baseline": "alphabetic", "color": "black"},
          "encoding": {
            "x": {"datum": -20, "type": "quantitative", "scale": {"domain": [-200, 200], "nice": false, "zero": false}, "axis": null},
            "y": {"datum": -58.9, "type": "quantitative", "scale": {"domain": [-100, 100], "nice": false, "zero": false}, "axis": null}
          }
        }
      ],
      "resolve": {"axis": {"x": "independent", "y": "independent"}}
    }
  ]
}
